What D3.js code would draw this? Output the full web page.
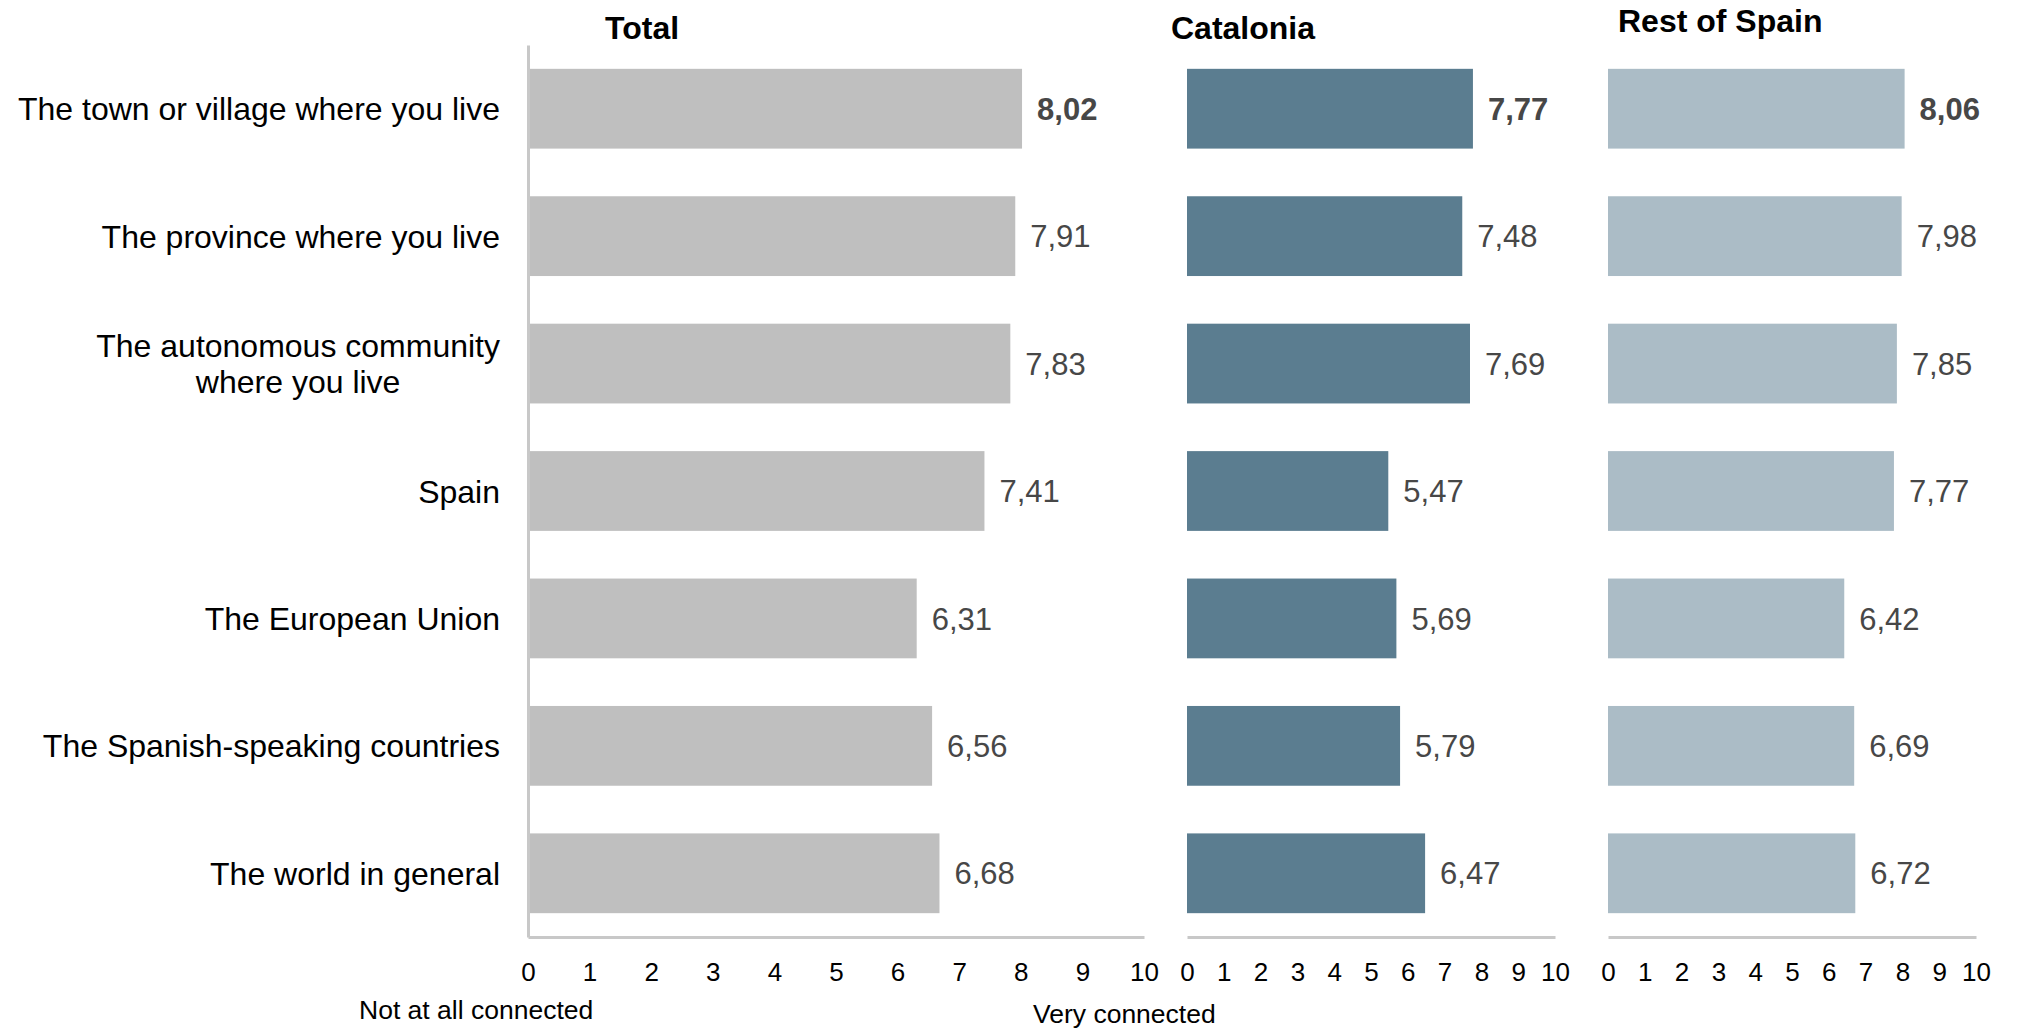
<!DOCTYPE html>
<html><head><meta charset="utf-8">
<script src="https://cdn.jsdelivr.net/npm/d3@7"></script>
<style>
html,body{margin:0;padding:0;background:#fff;}
text{font-family:"Liberation Sans",Arial,sans-serif;}
</style></head>
<body><svg id="c" width="2017" height="1030"></svg>
<script>
const categories = [
  ["The town or village where you live"],
  ["The province where you live"],
  ["The autonomous community","where you live"],
  ["Spain"],
  ["The European Union"],
  ["The Spanish-speaking countries"],
  ["The world in general"]
];
const panelTitles = ["Total","Catalonia","Rest of Spain"];
const totalValues = [8.02,7.91,7.83,7.41,6.31,6.56,6.68];
const cataloniaValues = [7.77,7.48,7.69,5.47,5.69,5.79,6.47];
const restValues = [8.06,7.98,7.85,7.77,6.42,6.69,6.72];
const tickValues = [0,1,2,3,4,5,6,7,8,9,10];
const axisLowLabel = "Not at all connected";
const axisHighLabel = "Very connected";

const svg = d3.select("#c");
const y = d3.scaleBand().domain(d3.range(categories.length)).range([45,937]).paddingInner(0.374).paddingOuter(0.187);

const panels = [
  {title:panelTitles[0], values:totalValues, color:"#bfbfbf", x0:528, x1:1144, tx:605, ty:39, yaxis:true},
  {title:panelTitles[1], values:cataloniaValues, color:"#5b7d90", x0:1187, x1:1555, tx:1171, ty:39, yaxis:false},
  {title:panelTitles[2], values:restValues, color:"#abbcc6", x0:1608, x1:1976, tx:1618, ty:32, yaxis:false}
];
const fmt = v => v.toFixed(2).replace(".", ",");

panels.forEach(p => {
  const x = d3.scaleLinear().domain([0,10]).range([p.x0,p.x1]);
  const g = svg.append("g");
  g.selectAll("rect").data(p.values).join("rect")
    .attr("x", x(0)).attr("y",(d,i)=>y(i))
    .attr("width", d=>x(d)-x(0)).attr("height", y.bandwidth())
    .attr("fill", p.color);
  g.selectAll("text.val").data(p.values).join("text").attr("class","val")
    .attr("x", d=>x(d)+15).attr("y",(d,i)=>y(i)+y.bandwidth()/2)
    .attr("dy","0.36em")
    .attr("font-size",31).attr("fill","#474747")
    .attr("font-weight",(d,i)=>i===0?"bold":"normal")
    .text(fmt);
  const ax = d3.axisBottom(x).tickValues(tickValues).tickSize(0).tickPadding(26);
  const ag = g.append("g").attr("transform","translate(0,937)").call(ax);
  ag.select(".domain").attr("stroke","#c8c8c8").attr("stroke-width",3);
  ag.selectAll("text").attr("font-size",26).attr("fill","#000").attr("font-family","Liberation Sans, Arial, sans-serif");
  if (p.yaxis) {
    const yg = g.append("g").attr("transform",`translate(${p.x0},0)`)
      .call(d3.axisLeft(d3.scaleLinear().range([45,937])).ticks(0).tickSize(0).tickFormat(""));
    yg.select(".domain").attr("stroke","#c8c8c8").attr("stroke-width",3);
  }
  svg.append("text").attr("x",p.tx).attr("y",p.ty).attr("font-size",32)
    .attr("font-weight","bold").attr("fill","#000").text(p.title);
});

categories.forEach((lines,i) => {
  const cy = y(i)+y.bandwidth()/2;
  if (lines.length===1) {
    svg.append("text").attr("x",500).attr("y",cy).attr("dy","0.36em")
      .attr("text-anchor","end").attr("font-size",32).attr("fill","#000").text(lines[0]);
  } else {
    const t1 = svg.append("text").attr("x",500).attr("y",cy-18).attr("dy","0.36em")
      .attr("text-anchor","end").attr("font-size",32).attr("fill","#000").text(lines[0]);
    const w = t1.node().getComputedTextLength();
    svg.append("text").attr("x",500-w/2).attr("y",cy+18).attr("dy","0.36em")
      .attr("text-anchor","middle").attr("font-size",32).attr("fill","#000").text(lines[1]);
  }
});

svg.append("text").attr("x",359).attr("y",1019).attr("font-size",26.5).attr("fill","#000").text(axisLowLabel);
svg.append("text").attr("x",1033).attr("y",1023).attr("font-size",26.5).attr("fill","#000").text(axisHighLabel);
</script></body></html>
